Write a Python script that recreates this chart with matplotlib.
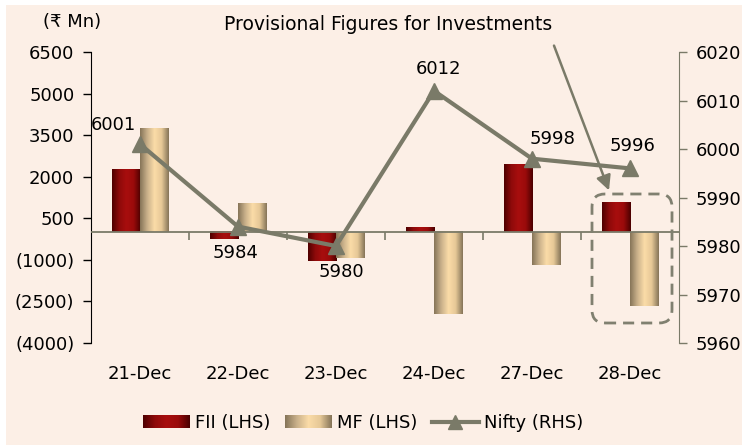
import numpy as np
import matplotlib
matplotlib.use("Agg")
import matplotlib.pyplot as plt
from matplotlib.colors import LinearSegmentedColormap
from matplotlib.patches import Rectangle, FancyBboxPatch
from matplotlib.lines import Line2D
from matplotlib.legend_handler import HandlerBase
from matplotlib.image import BboxImage
from matplotlib.transforms import Bbox, TransformedBbox
from matplotlib.ticker import FuncFormatter

# data
dates = ['21-Dec', '22-Dec', '23-Dec', '24-Dec', '27-Dec', '28-Dec']
fii = [2250, -260, -1030, 150, 2450, 1080]       # Rs Mn, left axis
mf = [3750, 1020, -930, -2970, -1190, -2650]     # Rs Mn, left axis
nifty = [6001, 5984, 5980, 6012, 5998, 5996]     # right axis

BG = '#FCEFE6'
LINE = '#7A7A68'

fii_cmap = LinearSegmentedColormap.from_list(
    'fii', ['#4E0000', '#8E0A0A', '#A80E0E', '#9A0B0B', '#4A0000'])
mf_cmap = LinearSegmentedColormap.from_list(
    'mf', ['#857458', '#C9B08A', '#FBDCA8', '#E6C897', '#857458'])
grad = np.linspace(0, 1, 128).reshape(1, -1)


class GradientHandler(HandlerBase):
    """legend swatch drawn as a horizontal gradient"""
    def __init__(self, cmap):
        super().__init__()
        self.cmap = cmap

    def create_artists(self, legend, orig_handle, xdescent, ydescent,
                       width, height, fontsize, trans):
        bb = TransformedBbox(Bbox.from_bounds(-xdescent, -ydescent, width, height), trans)
        img = BboxImage(bb, cmap=self.cmap, interpolation='bilinear')
        img.set_data(grad)
        return [img]


def paren_fmt(v, pos):
    return f'({abs(v):.0f})' if v < 0 else f'{v:.0f}'


plt.rcParams['font.family'] = ['DejaVu Sans']
fig = plt.figure(figsize=(7.42, 4.45), dpi=100, facecolor='white')
fig.patches.append(Rectangle((6 / 742, 0), 1, 1 - 5 / 445, transform=fig.transFigure,
                             facecolor=BG, edgecolor='none', zorder=-10))

ax = fig.add_axes([91 / 742, 1 - 343 / 445, 588 / 742, 291 / 445])
ax.set_facecolor('none')
ax2 = ax.twinx()
ax2.set_facecolor('none')

x = np.arange(len(dates))
w = 0.29
for i in range(len(dates)):
    ax.imshow(grad, cmap=fii_cmap, extent=[x[i] - w, x[i], min(0, fii[i]), max(0, fii[i])],
              aspect='auto', interpolation='bilinear', zorder=2)
    ax.imshow(grad, cmap=mf_cmap, extent=[x[i], x[i] + w, min(0, mf[i]), max(0, mf[i])],
              aspect='auto', interpolation='bilinear', zorder=2)

ax.set_xlim(-0.5, len(dates) - 0.5)
ax.set_ylim(-4000, 6500)
ax.set_yticks(np.arange(-4000, 6501, 1500))
ax.yaxis.set_major_formatter(FuncFormatter(paren_fmt))
ax.set_xticks(x)
ax.set_xticklabels(dates)
ax.tick_params(axis='x', length=0, pad=16, labelsize=13)
ax.tick_params(axis='y', length=6, width=1, labelsize=13, pad=6, colors='black')

# zero line with category separators
ax.axhline(0, color=LINE, lw=1.3, zorder=3)
ax.plot(np.arange(0.5, len(dates) - 0.5), [0] * (len(dates) - 1), linestyle='none',
        marker=3, ms=6, mew=1.2, color=LINE, zorder=3)

for s in ['top', 'right', 'bottom']:
    ax.spines[s].set_visible(False)
ax.spines['left'].set_color('black')

ax2.plot(x, nifty, color=LINE, lw=3, marker='^', ms=11, zorder=4)
ax2.set_ylim(5960, 6020)
ax2.set_yticks(np.arange(5960, 6021, 10))
ax2.tick_params(axis='y', length=6, width=1, labelsize=13, pad=6, color=LINE)
for s in ['top', 'left', 'bottom']:
    ax2.spines[s].set_visible(False)
ax2.spines['right'].set_color(LINE)

label_off = [(-19, 14), (-2, -19), (4, -19), (3, 16), (15, 14), (2, 16)]
for i, v in enumerate(nifty):
    ax2.annotate(f'{v}', (x[i], v), xytext=label_off[i], textcoords='offset points',
                 ha='center', va='center', fontsize=13, zorder=5)

fig.text(72 / 742, 1 - 22 / 445, '(\u20b9 Mn)', ha='center', va='center', fontsize=13)
fig.text(388 / 742, 1 - 25 / 445, 'Provisional Figures for Investments',
         ha='center', va='center', fontsize=13.5)

# callout arrow and dashed box around the provisional day
ax.annotate('', xy=(610 / 742, 1 - 193 / 445), xycoords='figure fraction',
            xytext=(553 / 742, 1 - 43 / 445), textcoords='figure fraction',
            arrowprops=dict(arrowstyle='-|>', color=LINE, lw=1.8, mutation_scale=22))
box = FancyBboxPatch((5.92, (445 - 323) / 100), 0.80, 1.29,
                     boxstyle='round,pad=0,rounding_size=0.13',
                     transform=fig.dpi_scale_trans, facecolor='none',
                     edgecolor='#808070', lw=2, linestyle=(0, (4, 2.5)))
fig.patches.append(box)

fii_proxy = Rectangle((0, 0), 1, 1)
mf_proxy = Rectangle((0, 0), 1, 1)
nifty_proxy = Line2D([], [], color=LINE, lw=3, marker='^', ms=10)
fig.legend([fii_proxy, mf_proxy, nifty_proxy], ['FII (LHS)', 'MF (LHS)', 'Nifty (RHS)'],
           handler_map={fii_proxy: GradientHandler(fii_cmap), mf_proxy: GradientHandler(mf_cmap)},
           loc='center', bbox_to_anchor=(363 / 742, 22 / 445), ncol=3, frameon=False,
           fontsize=13, handlelength=2.6, handletextpad=0.3, columnspacing=0.8)

fig.savefig('out.png', dpi=100, facecolor=fig.get_facecolor())
